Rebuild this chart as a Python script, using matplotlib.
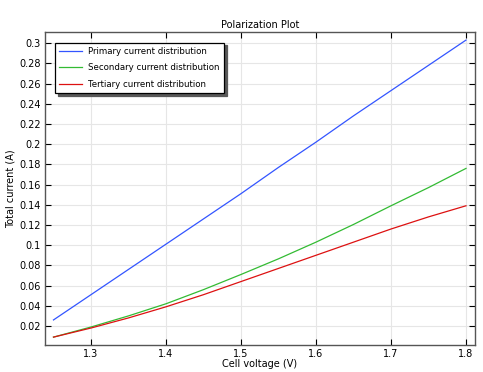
import matplotlib
matplotlib.use("Agg")
import matplotlib.pyplot as plt
from matplotlib.ticker import FuncFormatter

# cell voltage (V)
voltage = [1.25, 1.30, 1.35, 1.40, 1.45, 1.50, 1.55, 1.60, 1.65, 1.70, 1.75, 1.80]
# total current (A) for each model
primary = [0.026, 0.051, 0.076, 0.101, 0.126, 0.151, 0.177, 0.202, 0.228, 0.253, 0.278, 0.303]
secondary = [0.009, 0.019, 0.030, 0.042, 0.056, 0.071, 0.0865, 0.103, 0.1205, 0.139, 0.157, 0.176]
tertiary = [0.009, 0.018, 0.028, 0.039, 0.051, 0.064, 0.077, 0.090, 0.103, 0.116, 0.128, 0.139]

names = ["Primary current distribution",
         "Secondary current distribution",
         "Tertiary current distribution"]
colors = ["#3355ff", "#33bb33", "#dd1111"]

xticks = [1.3, 1.4, 1.5, 1.6, 1.7, 1.8]
yticks = [0.02, 0.04, 0.06, 0.08, 0.1, 0.12, 0.14, 0.16, 0.18, 0.2,
          0.22, 0.24, 0.26, 0.28, 0.3]

plt.rcParams['font.family'] = ['DejaVu Sans']
plt.rcParams['font.size'] = 7

fig = plt.figure(figsize=(4.83, 3.72), dpi=100)
ax = fig.add_axes([45 / 483, 27 / 372, 430 / 483, 313 / 372])

for ys, name, c in zip([primary, secondary, tertiary], names, colors):
    ax.plot(voltage, ys, color=c, lw=0.9, label=name)

ax.set_xlim(1.2387, 1.812)
ax.set_ylim(0.0012, 0.311)
ax.set_xticks(xticks)
ax.set_yticks(yticks)
fmt = FuncFormatter(lambda v, p: "%g" % round(v, 3))
ax.xaxis.set_major_formatter(fmt)
ax.yaxis.set_major_formatter(fmt)
ax.tick_params(direction='in', top=True, right=True, length=4, width=0.8,
               labelsize=7, pad=3)
ax.grid(True, color='#e6e6e6', lw=0.8)
ax.set_axisbelow(True)
for s in ax.spines.values():
    s.set_color('#555555')
    s.set_linewidth(1.0)

ax.set_title("Polarization Plot", fontsize=7, pad=3)
ax.set_xlabel("Cell voltage (V)", fontsize=7, labelpad=0)
ax.set_ylabel("Total current (A)", fontsize=7, labelpad=3)

leg = ax.legend(loc='upper left', bbox_to_anchor=(0.023, 0.966), fancybox=False,
                shadow={'color': '0.35', 'alpha': 1, 'ox': 2, 'oy': -2},
                framealpha=1, edgecolor='black', fontsize=6.2,
                handlelength=2.6, borderpad=0.5, labelspacing=0.85,
                borderaxespad=0)
leg.get_frame().set_linewidth(0.9)

fig.savefig("out.png", dpi=100)
